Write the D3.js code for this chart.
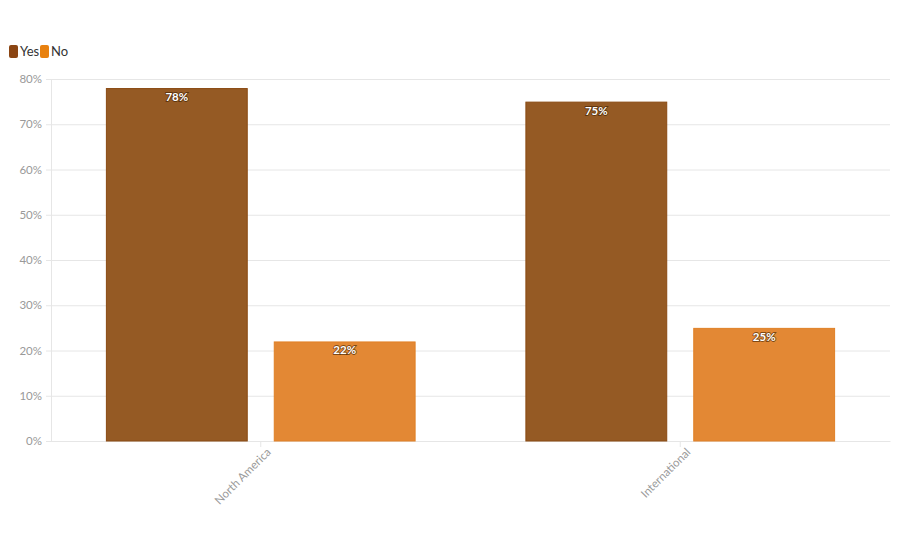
<!DOCTYPE html>
<html><head><meta charset="utf-8">
<script src="https://cdn.jsdelivr.net/npm/d3@7"></script>
<style>body{margin:0;background:#fff;} svg{display:block;font-family:Lato, "Open Sans", sans-serif;}</style>
</head><body>
<svg id="c" width="900" height="550"></svg>
<script>
const categories = ["North America", "International"];
const seriesNames = ["Yes", "No"];
const yesValues = [78, 75];
const noValues = [22, 25];
const yTicks = [0, 10, 20, 30, 40, 50, 60, 70, 80];

const fills = {Yes: "#955a24", No: "#e38834"};
const strokes = {Yes: "#8a4a12", No: "#e08026"};
const legendCols = {Yes: "#8b4513", No: "#e8810f"};

const svg = d3.select("#c");
const m = {l: 51, r: 10, t: 79, b: 109};
const W = 900, H = 550;
const x0 = d3.scaleBand().domain(categories).range([m.l, W - m.r]).paddingInner(0).paddingOuter(0);
const x1 = d3.scaleBand().domain(seriesNames).range([0, x0.bandwidth()]).paddingInner(0.155).paddingOuter(0.327);
const y = d3.scaleLinear().domain([0, 80]).range([H - m.b, m.t]);

// gridlines
svg.append("g").selectAll("line").data(yTicks).join("line")
  .attr("x1", m.l - 5).attr("x2", W - m.r)
  .attr("y1", d => y(d) + 0.5).attr("y2", d => y(d) + 0.5)
  .attr("stroke", "#e6e6e6").attr("stroke-width", 1);

// y axis
const ya = svg.append("g").attr("transform", `translate(${m.l},0)`)
  .call(d3.axisLeft(y).tickValues(yTicks).tickFormat(d => d + "%").tickSize(0).tickSizeOuter(0).tickPadding(9));
ya.select(".domain").attr("stroke", "#e6e6e6");
ya.selectAll("text").attr("fill", "#999").style("font-size", "11.5px").style("font-family", "Lato, sans-serif");

// x axis
const xa = svg.append("g").attr("transform", `translate(0,${H - m.b})`)
  .call(d3.axisBottom(x0).tickSize(6).tickSizeOuter(0).tickPadding(4));
xa.select(".domain").attr("stroke", "#e6e6e6");
xa.selectAll(".tick line").attr("stroke", "#e6e6e6");
xa.selectAll("text").attr("fill", "#999").style("font-size", "11.5px").style("font-family", "Lato, sans-serif")
  .attr("text-anchor", "end").attr("dy", "0.35em")
  .attr("transform", "translate(1,2) rotate(-45)");

// bars
const data = categories.map((c, i) => ({cat: c, vals: [{s: "Yes", v: yesValues[i]}, {s: "No", v: noValues[i]}]}));
const g = svg.append("g").selectAll("g").data(data).join("g")
  .attr("transform", d => `translate(${x0(d.cat)},0)`);
g.selectAll("rect").data(d => d.vals).join("rect")
  .attr("x", d => x1(d.s) + 0.5).attr("width", x1.bandwidth() - 1)
  .attr("y", d => y(d.v) + 0.5).attr("height", d => y(0) - y(d.v) - 0.5)
  .attr("fill", d => fills[d.s]).attr("stroke", d => strokes[d.s]).attr("stroke-width", 1);
g.selectAll("text").data(d => d.vals).join("text")
  .attr("x", d => x1(d.s) + x1.bandwidth() / 2).attr("y", d => y(d.v) + 13)
  .attr("text-anchor", "middle").attr("fill", "#fff")
  .style("font-size", "11.5px").style("font-weight", "bold")
  .style("paint-order", "stroke").attr("stroke", "rgba(60,30,0,0.6)").attr("stroke-width", 1.8)
  .text(d => d.v + "%");

// legend
const lg = svg.append("g").attr("transform", "translate(9,45)");
const items = [{s: "Yes", x: 0}, {s: "No", x: 31}];
items.forEach(it => {
  lg.append("rect").attr("x", it.x).attr("y", 0).attr("width", 9).attr("height", 13).attr("rx", 2)
    .attr("fill", legendCols[it.s]);
  lg.append("text").attr("x", it.x + 11).attr("y", 11).attr("fill", "#333")
    .style("font-size", "13px").text(it.s);
});
</script>
</body></html>
